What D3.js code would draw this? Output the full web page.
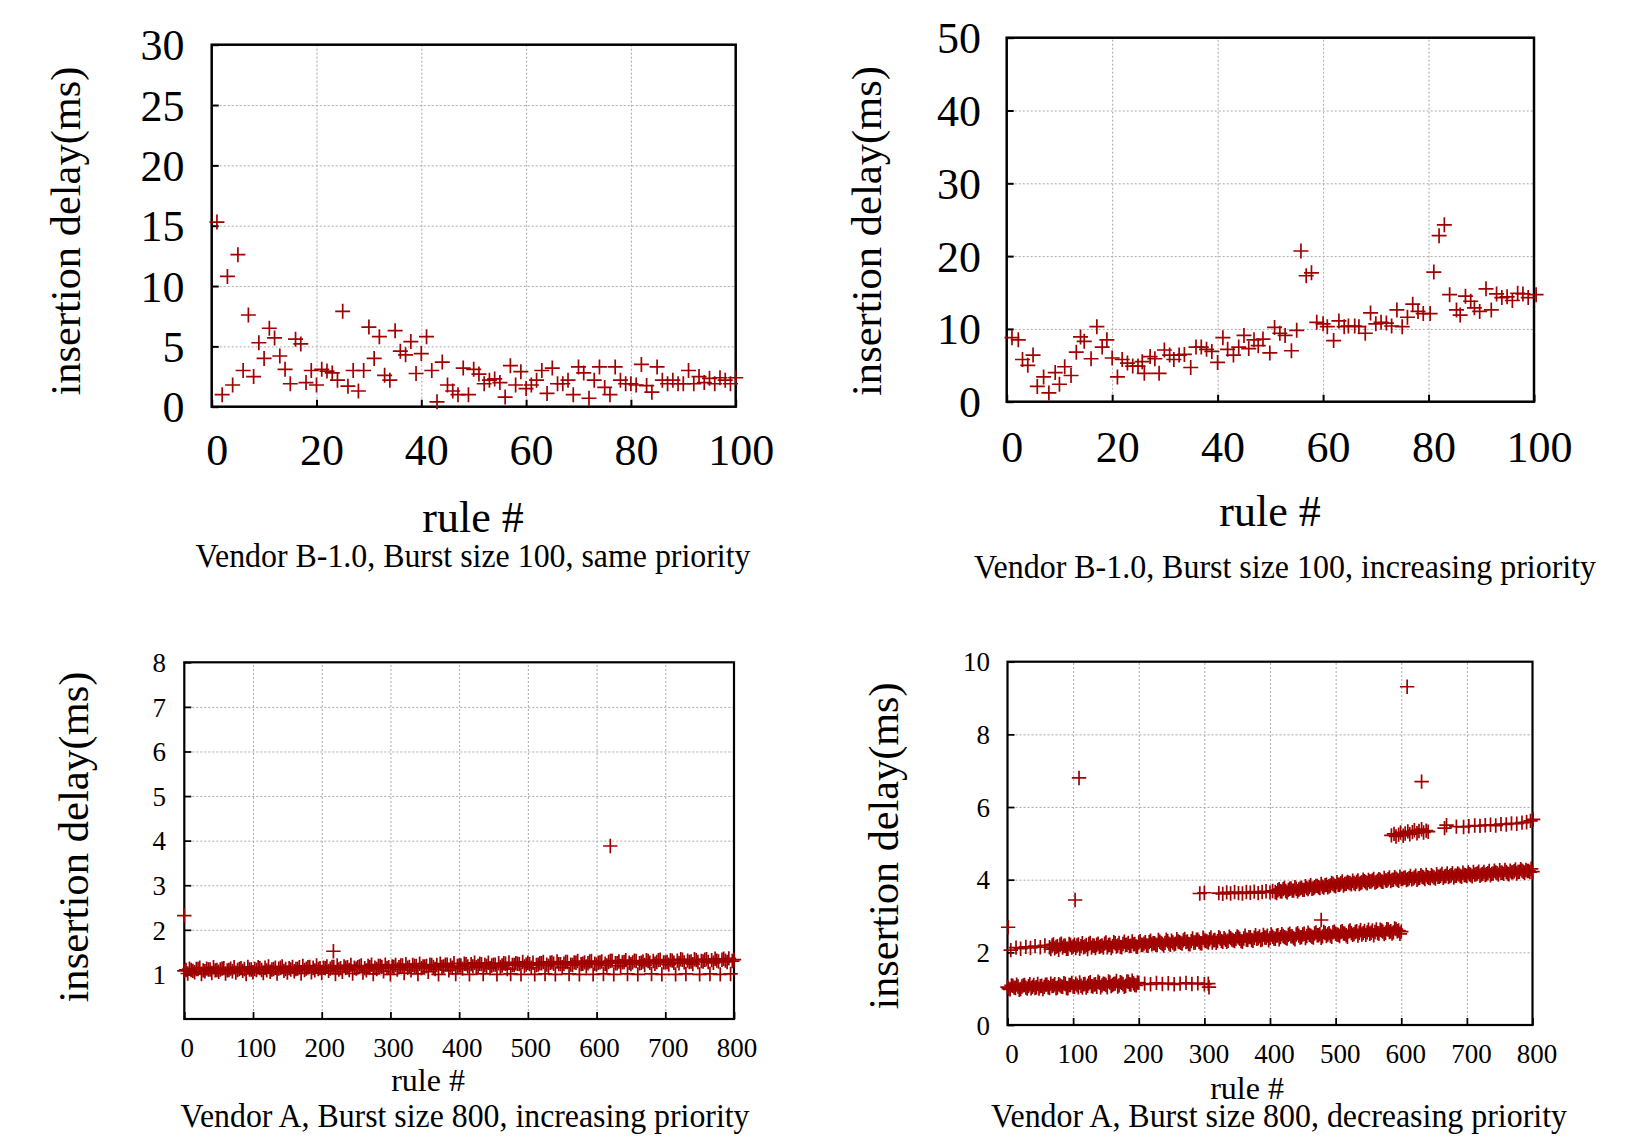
<!DOCTYPE html>
<html lang="en">
<head>
<meta charset="utf-8">
<script src="https://d3js.org/d3.v7.min.js"></script>
<style>
body { margin: 0; background: #ffffff; }
svg { display: block; }
text { font-family: "Liberation Serif", "Times New Roman", serif; fill: #000; }
.grid line { stroke: #a9a9a9; stroke-width: 1; stroke-dasharray: 2,2; }
.grid path { display: none; }
.axis path { display: none; }
.axis line { stroke: #000; }
</style>
</head>
<body>
<script>
// ---- data: [rule #, insertion delay (ms)] ----

// Vendor B-1.0, burst 100, same priority
var sameDelay = [15.3, 1.0, 10.8, 1.8, 12.6, 3.0, 7.6, 2.5, 5.3, 4.0,
  6.5, 5.7, 4.2, 3.1, 1.9, 5.6, 5.2, 2.0, 3.0, 1.8,
  3.1, 2.95, 2.8, 2.2, 7.9, 1.7, 3.0, 1.3, 3.0, 6.6,
  4.0, 5.8, 2.6, 2.2, 6.3, 4.6, 4.3, 5.4, 2.75, 4.4,
  5.8, 3.0, 0.4, 3.7, 1.8, 1.3, 1.0, 3.2, 1.0, 3.1,
  2.7, 1.9, 2.2, 2.3, 2.0, 0.8, 3.4, 1.8, 2.9, 1.5,
  1.8, 2.2, 3.0, 1.1, 3.2, 1.9, 1.9, 2.2, 1.0, 3.3,
  2.8, 0.7, 2.2, 3.3, 1.6, 1.0, 3.3, 2.2, 1.9, 1.9,
  1.8, 3.5, 1.75, 1.2, 3.3, 2.2, 1.9, 2.2, 1.9, 1.9,
  3.0, 1.9, 2.5, 2.0, 2.35, 1.9, 2.4, 2.2, 1.9, 2.4];
var sameRule = d3.range(1, 101);

// Vendor B-1.0, burst 100, increasing priority
var incRule = [1.0, 2.2, 3, 4, 5, 5.8, 7, 8, 9.2, 10,
  11, 12.2, 13.2, 14, 14.7, 16, 17.1, 18.1, 19, 20,
  21, 21.9, 22.9, 23.9, 24.9, 25.7, 26.1, 27.2, 28.1, 28.9,
  29.9, 30.9, 31.7, 32.7, 33.7, 34.9, 35.9, 36.9, 37.9, 38.9,
  40, 41, 41.9, 43, 44, 45, 45.9, 46.9, 47.7, 48.6,
  49.9, 50.8, 51.8, 52.8, 54, 55, 55.8, 56.8, 57.8, 58.8,
  60, 60.8, 62, 63, 64, 64.8, 66, 66.8, 68, 69,
  70, 71, 72, 73, 74, 75, 76, 77, 78, 79,
  80.3, 81, 82, 83, 84, 85.3, 86, 87, 88, 88.7,
  89.7, 90.9, 91.9, 92.9, 93.9, 94.9, 95.9, 96.9, 97.9, 98.9, 100.4];
var incDelay = [8.8, 8.5, 5.8, 5.0, 6.4, 2.1, 3.4, 1.2, 4.0, 2.4,
  4.8, 3.6, 6.8, 8.9, 8.3, 5.9, 10.3, 7.5, 8.5, 6.0,
  3.4, 5.8, 5.3, 4.9, 4.9, 5.5, 3.9, 6.2, 5.9, 3.9,
  7.1, 6.4, 5.8, 6.4, 6.5, 4.7, 7.5, 7.5, 7.2, 6.9,
  5.4, 8.8, 7.2, 6.4, 7.5, 9.1, 7.3, 8.5, 7.7, 8.6,
  6.7, 10.2, 9.4, 9.1, 7.0, 9.8, 20.7, 17.3, 17.7, 10.9,
  10.7, 10.3, 8.4, 11.1, 10.3, 10.4, 10.4, 10.3, 9.4, 12.2,
  10.7, 10.9, 10.8, 10.4, 12.6, 10.3, 11.6, 13.4, 12.4, 12.1,
  12.1, 17.8, 22.8, 24.3, 14.7, 12.6, 11.9, 14.5, 13.8, 12.9,
  12.4, 15.5, 12.6, 14.8, 14.3, 14.4, 13.9, 14.9, 14.8, 14.3, 14.7];

// Vendor A, burst 800, increasing priority: one dense band, read every 5 rules (two interleaved readings)
var aIncLowStart = 0, aIncLowStep = 5;
var aIncLow = [1.08, 1.02, 1.10, 1.05, 1.12, 1.01, 1.07, 1.11, 1.03, 1.09,
  1.06, 1.13, 1.02, 1.10, 1.07, 1.04, 1.12, 1.08, 1.01, 1.11,
  1.05, 1.10, 1.14, 1.03, 1.09, 1.06, 1.12, 1.02, 1.15, 1.08,
  1.04, 1.11, 1.07, 1.13, 1.02, 1.10, 1.16, 1.05, 1.09, 1.12,
  1.03, 1.14, 1.08, 1.17, 1.01, 1.11, 1.06, 1.15, 1.10, 1.02,
  1.13, 1.18, 1.04, 1.09, 1.16, 1.01, 1.12, 1.19, 1.07, 1.14,
  1.00, 1.17, 1.11, 1.20, 1.03, 1.15, 1.09, 1.19, 1.01, 1.14,
  1.18, 1.06, 1.21, 1.12, 1.00, 1.17, 1.22, 1.09, 1.15, 1.01,
  1.20, 1.13, 1.23, 1.00, 1.18, 1.16, 1.24, 1.01, 1.19, 1.14,
  1.22, 1.00, 1.17, 1.25, 1.12, 1.01, 1.21, 1.24, 1.00, 1.18,
  1.26, 1.15, 1.00, 1.22, 1.25, 1.01, 1.19, 1.27, 1.00, 1.23,
  1.16, 1.28, 1.01, 1.21, 1.26, 1.00, 1.24, 1.18, 1.29, 1.00,
  1.22, 1.27, 1.01, 1.20, 1.30, 1.00, 1.25, 1.19, 1.28, 1.01,
  1.23, 1.31, 1.00, 1.26, 1.21, 1.30, 1.01, 1.24, 1.32, 1.00,
  1.27, 1.22, 1.31, 1.00, 1.25, 1.33, 1.01, 1.28, 1.23, 1.32,
  1.00, 1.29, 1.34, 1.01, 1.26, 1.31, 1.00, 1.35, 1.28, 1.01,
  1.33];
var aIncHighStart = 2.5, aIncHighStep = 5;
var aIncHigh = [1.10, 1.13, 1.08, 1.12, 1.15, 1.09, 1.13, 1.11, 1.16, 1.10,
  1.11, 1.14, 1.09, 1.13, 1.16, 1.10, 1.14, 1.12, 1.17, 1.11,
  1.12, 1.16, 1.10, 1.15, 1.18, 1.11, 1.15, 1.13, 1.18, 1.12,
  1.14, 1.17, 1.12, 1.16, 1.19, 1.13, 1.17, 1.15, 1.20, 1.14,
  1.15, 1.18, 1.13, 1.17, 1.20, 1.14, 1.18, 1.16, 1.21, 1.15,
  1.16, 1.20, 1.14, 1.19, 1.22, 1.15, 1.19, 1.17, 1.22, 1.16,
  1.18, 1.21, 1.16, 1.20, 1.23, 1.17, 1.21, 1.19, 1.24, 1.18,
  1.19, 1.22, 1.17, 1.21, 1.24, 1.18, 1.22, 1.20, 1.25, 1.19,
  1.20, 1.24, 1.18, 1.23, 1.26, 1.19, 1.23, 1.21, 1.26, 1.20,
  1.22, 1.25, 1.20, 1.24, 1.27, 1.21, 1.25, 1.23, 1.28, 1.22,
  1.23, 1.26, 1.21, 1.25, 1.28, 1.22, 1.26, 1.24, 1.29, 1.23,
  1.24, 1.28, 1.22, 1.27, 1.30, 1.23, 1.27, 1.25, 1.30, 1.24,
  1.26, 1.29, 1.24, 1.28, 1.31, 1.25, 1.29, 1.27, 1.32, 1.26,
  1.27, 1.30, 1.25, 1.29, 1.32, 1.26, 1.30, 1.28, 1.33, 1.27,
  1.28, 1.32, 1.26, 1.31, 1.34, 1.27, 1.31, 1.29, 1.34, 1.28,
  1.30, 1.33, 1.28, 1.32, 1.35, 1.29, 1.33, 1.31, 1.36, 1.30];
var aIncOutliers = [[0, 2.32], [217, 1.52], [620, 3.88]];

// Vendor A, burst 800, decreasing priority: four bands plus outliers
var aDecLowStart = 0, aDecLowStep = 4;
var aDecLow = [1.04, 0.98, 1.08, 1.02, 1.06, 0.99, 1.09, 1.03, 1.07, 1.01,
  1.10, 1.04, 1.00, 1.08, 1.05, 1.11, 1.02, 1.07, 1.12, 1.03,
  1.09, 1.05, 1.13, 1.01, 1.10, 1.06, 1.14, 1.04, 1.08, 1.12,
  1.03, 1.15, 1.07, 1.11, 1.05, 1.16, 1.09, 1.13, 1.04, 1.17,
  1.10, 1.14, 1.06, 1.18, 1.12, 1.08, 1.19, 1.11, 1.15, 1.09,
  1.16];
var aDecLow2Start = 2, aDecLow2Step = 4;
var aDecLow2 = [1.00, 1.09, 1.03, 1.11, 0.97, 1.06, 1.10, 1.00, 1.12, 1.05,
  1.02, 1.13, 1.07, 0.99, 1.11, 1.04, 1.14, 1.08, 1.01, 1.12,
  1.06, 1.15, 1.02, 1.10, 1.16, 1.05, 1.09, 1.17, 1.03, 1.13,
  1.08, 1.18, 1.06, 1.12, 1.19, 1.04, 1.14, 1.10, 1.20, 1.07,
  1.13, 1.21, 1.09, 1.16, 1.05, 1.20, 1.12, 1.22, 1.10, 1.17];
var aDecLowTail = [[209, 1.14], [218, 1.12], [227, 1.16], [236, 1.13], [245, 1.15], [254, 1.12],
  [263, 1.14], [272, 1.16], [281, 1.13], [290, 1.15], [300, 1.12], [306, 1.14], [307, 1.04]];

var aDecMidHead = [[5, 2.06], [13, 2.13], [20, 2.10], [28, 2.15], [35, 2.12], [42, 2.17], [50, 2.14], [57, 2.19]];
var aDecMidStart = 64, aDecMidStep = 4;
var aDecMid = [2.14, 2.19, 2.11, 2.17, 2.21, 2.13, 2.18, 2.10, 2.20, 2.16,
  2.12, 2.22, 2.17, 2.14, 2.20, 2.23, 2.13, 2.18, 2.21, 2.15,
  2.19, 2.24, 2.14, 2.21, 2.17, 2.25, 2.19, 2.15, 2.23, 2.20,
  2.26, 2.18, 2.22, 2.16, 2.27, 2.21, 2.24, 2.19, 2.28, 2.22,
  2.25, 2.20, 2.29, 2.23, 2.26, 2.31, 2.21, 2.27, 2.24, 2.30,
  2.26, 2.33, 2.28, 2.23, 2.31, 2.27, 2.35, 2.29, 2.25, 2.33,
  2.30, 2.36, 2.27, 2.34, 2.31, 2.38, 2.29, 2.35, 2.32, 2.39,
  2.33, 2.37, 2.41, 2.31, 2.38, 2.35, 2.42, 2.34, 2.40, 2.37,
  2.44, 2.36, 2.41, 2.46, 2.39, 2.43, 2.37, 2.47, 2.42, 2.45,
  2.40, 2.48, 2.44, 2.39, 2.49, 2.46, 2.42, 2.51, 2.45, 2.48,
  2.43, 2.52, 2.47, 2.50, 2.44, 2.53, 2.49, 2.46, 2.55, 2.51,
  2.48, 2.56, 2.52, 2.47, 2.57, 2.53, 2.50, 2.58, 2.54, 2.49,
  2.59, 2.55, 2.51, 2.60, 2.56, 2.53, 2.62, 2.57, 2.54, 2.63,
  2.58, 2.55, 2.64, 2.60, 2.57];
var aDecMid2Start = 66, aDecMid2Step = 4;
var aDecMid2 = [2.09, 2.22, 2.15, 2.07, 2.24, 2.18, 2.10, 2.23, 2.13, 2.21,
  2.19, 2.10, 2.25, 2.16, 2.09, 2.26, 2.19, 2.12, 2.24, 2.17,
  2.13, 2.27, 2.20, 2.12, 2.28, 2.16, 2.26, 2.14, 2.29, 2.21,
  2.17, 2.30, 2.23, 2.15, 2.31, 2.20, 2.28, 2.18, 2.32, 2.25,
  2.21, 2.34, 2.26, 2.19, 2.35, 2.24, 2.32, 2.22, 2.36, 2.28,
  2.24, 2.37, 2.30, 2.22, 2.38, 2.27, 2.35, 2.25, 2.40, 2.32,
  2.27, 2.41, 2.33, 2.26, 2.42, 2.31, 2.39, 2.29, 2.43, 2.35,
  2.31, 2.44, 2.37, 2.29, 2.46, 2.34, 2.42, 2.32, 2.47, 2.39,
  2.34, 2.48, 2.40, 2.33, 2.49, 2.38, 2.46, 2.36, 2.50, 2.42,
  2.38, 2.51, 2.44, 2.36, 2.53, 2.41, 2.49, 2.39, 2.54, 2.46,
  2.41, 2.55, 2.47, 2.40, 2.56, 2.45, 2.53, 2.43, 2.57, 2.49,
  2.45, 2.58, 2.51, 2.43, 2.60, 2.48, 2.56, 2.46, 2.61, 2.53,
  2.48, 2.62, 2.54, 2.47, 2.63, 2.52, 2.60, 2.50, 2.64, 2.56,
  2.52, 2.66, 2.58, 2.51];

var aDecHighHead = [[293, 3.62], [300, 3.64], [322, 3.63], [328, 3.61], [334, 3.65], [340, 3.62],
  [346, 3.66], [352, 3.63], [358, 3.62], [364, 3.66], [370, 3.64], [376, 3.67], [382, 3.63],
  [388, 3.66], [394, 3.68], [400, 3.65], [404, 3.69]];
var aDecHighStart = 408, aDecHighStep = 4;
var aDecHigh = [3.66, 3.71, 3.68, 3.74, 3.69, 3.72, 3.76, 3.70, 3.75, 3.73,
  3.78, 3.72, 3.77, 3.80, 3.75, 3.79, 3.83, 3.77, 3.81, 3.85,
  3.79, 3.84, 3.88, 3.82, 3.86, 3.90, 3.84, 3.89, 3.92, 3.87,
  3.91, 3.94, 3.88, 3.93, 3.96, 3.90, 3.95, 3.98, 3.92, 3.97,
  3.99, 3.94, 3.98, 4.01, 3.96, 4.00, 4.03, 3.97, 4.02, 4.05,
  3.99, 4.04, 4.01, 4.06, 4.00, 4.05, 4.08, 4.02, 4.07, 4.04,
  4.09, 4.03, 4.08, 4.11, 4.05, 4.10, 4.07, 4.12, 4.06, 4.11,
  4.14, 4.08, 4.13, 4.10, 4.15, 4.09, 4.14, 4.17, 4.11, 4.16,
  4.13, 4.18, 4.12, 4.17, 4.20, 4.14, 4.19, 4.16, 4.21, 4.15,
  4.20, 4.23, 4.17, 4.22, 4.25, 4.19, 4.24, 4.21, 4.22];
var aDecHigh2Start = 410, aDecHigh2Step = 4;
var aDecHigh2 = [3.63, 3.74, 3.67, 3.77, 3.65, 3.75, 3.70, 3.79, 3.68, 3.76,
  3.72, 3.82, 3.74, 3.85, 3.76, 3.83, 3.79, 3.88, 3.78, 3.86,
  3.82, 3.91, 3.84, 3.93, 3.86, 3.95, 3.88, 3.94, 3.90, 3.97,
  3.88, 3.98, 3.91, 4.00, 3.93, 3.99, 3.95, 4.02, 3.94, 4.01,
  3.95, 4.05, 3.97, 4.06, 3.99, 4.07, 4.00, 4.08, 4.02, 4.06,
  4.01, 4.10, 4.03, 4.11, 4.04, 4.12, 4.06, 4.13, 4.05, 4.12,
  4.06, 4.15, 4.08, 4.16, 4.09, 4.17, 4.10, 4.18, 4.11, 4.17,
  4.10, 4.19, 4.12, 4.20, 4.13, 4.21, 4.15, 4.22, 4.14, 4.21,
  4.15, 4.24, 4.16, 4.25, 4.18, 4.26, 4.19, 4.27, 4.17, 4.25,
  4.20, 4.28, 4.21, 4.29, 4.22, 4.27, 4.24, 4.30];

var aDecTop = [[585, 5.22], [589, 5.26], [592, 5.19], [596, 5.24], [599, 5.30], [603, 5.21],
  [606, 5.27], [610, 5.33], [613, 5.25], [617, 5.31], [620, 5.36], [624, 5.28], [627, 5.34],
  [631, 5.39], [634, 5.30], [638, 5.35], [641, 5.32],
  [666, 5.42], [669, 5.50], [684, 5.46], [695, 5.45], [703, 5.47], [712, 5.49], [720, 5.48],
  [728, 5.50], [736, 5.51], [744, 5.49], [752, 5.53], [760, 5.52], [768, 5.55], [776, 5.54],
  [784, 5.57], [791, 5.58], [797, 5.62], [801, 5.66]];
var aDecOutliers = [[1, 2.69], [103, 3.44], [109, 6.8], [478, 2.89], [609, 9.31], [631, 6.70]];

// ---- helpers ----
function pairs(rules, delays) { return rules.map(function(r, i) { return [r, delays[i]]; }); }
function band(start, step, values) { return values.map(function(v, i) { return [start + i * step, v]; }); }

var panels = [
  { points: pairs(sameRule, sameDelay),
    x0: 211.7, x1: 735.7, y0: 406.7, y1: 44.7,
    xDomain: [0, 100], xTicks: d3.range(0, 101, 20), yDomain: [0, 30], yTicks: d3.range(0, 31, 5),
    tickFont: 44, yLabRight: 184.5, xLabBase: 465.5, xLabDx: 5,
    ruleX: 473, ruleY: 532, ruleFont: 44,
    caption: "Vendor B-1.0, Burst size 100, same priority", capX: 473, capY: 567, capLen: 555, capFont: 33,
    ylabX: 80, ylabY: 231, ylabLen: 329, ylabFont: 43, markR: 7.5, markW: 1.7, border: 2.5 },
  { points: pairs(incRule, incDelay),
    x0: 1006.7, x1: 1534, y0: 401.7, y1: 37.7,
    xDomain: [0, 100], xTicks: d3.range(0, 101, 20), yDomain: [0, 50], yTicks: d3.range(0, 51, 10),
    tickFont: 44, yLabRight: 981, xLabBase: 462, xLabDx: 5,
    ruleX: 1270, ruleY: 526, ruleFont: 44,
    caption: "Vendor B-1.0, Burst size 100, increasing priority", capX: 1285, capY: 578, capLen: 622, capFont: 33,
    ylabX: 881, ylabY: 231, ylabLen: 330, ylabFont: 43, markR: 7.5, markW: 1.7, border: 2.5 },
  { points: band(aIncLowStart, aIncLowStep, aIncLow)
      .concat(band(aIncHighStart, aIncHighStep, aIncHigh), aIncOutliers),
    x0: 184.3, x1: 734, y0: 1019, y1: 662.3,
    xDomain: [0, 800], xTicks: d3.range(0, 801, 100), yDomain: [0, 8], yTicks: d3.range(1, 9),
    tickFont: 27, yLabRight: 166, xLabBase: 1057, xLabDx: 2.5,
    ruleX: 428, ruleY: 1091, ruleFont: 32,
    caption: "Vendor A, Burst size 800, increasing priority", capX: 465, capY: 1127, capLen: 569, capFont: 33,
    ylabX: 88, ylabY: 837, ylabLen: 331, ylabFont: 43, markR: 7.2, markW: 1.7, border: 2.2 },
  { points: band(aDecLowStart, aDecLowStep, aDecLow).concat(
      band(aDecLow2Start, aDecLow2Step, aDecLow2), aDecLowTail, aDecMidHead,
      band(aDecMidStart, aDecMidStep, aDecMid), band(aDecMid2Start, aDecMid2Step, aDecMid2),
      aDecHighHead, band(aDecHighStart, aDecHighStep, aDecHigh),
      band(aDecHigh2Start, aDecHigh2Step, aDecHigh2), aDecTop, aDecOutliers),
    x0: 1007.5, x1: 1532.5, y0: 1025, y1: 661.7,
    xDomain: [0, 800], xTicks: d3.range(0, 801, 100), yDomain: [0, 10], yTicks: d3.range(0, 11, 2),
    tickFont: 27, yLabRight: 990, xLabBase: 1063, xLabDx: 4,
    ruleX: 1247, ruleY: 1099, ruleFont: 32,
    caption: "Vendor A, Burst size 800, decreasing priority", capX: 1279, capY: 1127, capLen: 576, capFont: 33,
    ylabX: 898, ylabY: 846, ylabLen: 327, ylabFont: 43, markR: 7.2, markW: 1.7, border: 2.2 }
];

var svg = d3.select("body").append("svg")
  .attr("width", 1644)
  .attr("height", 1139);

svg.append("rect").attr("width", 1644).attr("height", 1139).attr("fill", "#fff");

panels.forEach(drawPanel);

function drawPanel(p) {
  var x = d3.scaleLinear().domain(p.xDomain).range([p.x0, p.x1]);
  var y = d3.scaleLinear().domain(p.yDomain).range([p.y0, p.y1]);
  var w = p.x1 - p.x0, h = p.y0 - p.y1;
  var g = svg.append("g");

  // dotted grid, not on the border itself
  var xIn = p.xTicks.filter(function(t) { return t > p.xDomain[0] && t < p.xDomain[1]; });
  var yIn = p.yTicks.filter(function(t) { return t > p.yDomain[0] && t < p.yDomain[1]; });
  g.append("g").attr("class", "grid")
    .attr("transform", "translate(0," + p.y0 + ")")
    .call(d3.axisBottom(x).tickValues(xIn).tickSize(-h).tickFormat(""));
  g.append("g").attr("class", "grid")
    .attr("transform", "translate(" + p.x0 + ",0)")
    .call(d3.axisLeft(y).tickValues(yIn).tickSize(-w).tickFormat(""));

  // inward ticks with labels
  var xa = g.append("g").attr("class", "axis")
    .attr("transform", "translate(0," + p.y0 + ")")
    .call(d3.axisBottom(x).tickValues(p.xTicks).tickSizeInner(-7).tickSizeOuter(0));
  xa.selectAll("line").attr("stroke-width", p.border * 0.8);
  xa.selectAll("text")
    .attr("y", p.xLabBase - p.y0).attr("dy", null).attr("dx", p.xLabDx)
    .style("font-size", p.tickFont + "px");

  var ya = g.append("g").attr("class", "axis")
    .attr("transform", "translate(" + p.x0 + ",0)")
    .call(d3.axisLeft(y).tickValues(p.yTicks).tickSizeInner(-7).tickSizeOuter(0));
  ya.selectAll("line").attr("stroke-width", p.border * 0.8);
  ya.selectAll("text")
    .attr("x", p.yLabRight - p.x0).attr("dy", "0.34em")
    .style("font-size", p.tickFont + "px");

  // border
  g.append("rect")
    .attr("x", p.x0).attr("y", p.y1).attr("width", w).attr("height", h)
    .attr("fill", "none").attr("stroke", "#000").attr("stroke-width", p.border);

  // plus marks
  var r = p.markR;
  g.append("g").selectAll("path")
    .data(p.points)
    .enter().append("path")
    .attr("transform", function(d) { return "translate(" + x(d[0]) + "," + y(d[1]) + ")"; })
    .attr("d", "M" + (-r) + ",0H" + r + "M0," + (-r) + "V" + r)
    .attr("stroke", "#a00000")
    .attr("stroke-width", p.markW)
    .attr("fill", "none");

  // labels
  g.append("text")
    .attr("x", p.ylabX).attr("y", p.ylabY)
    .attr("transform", "rotate(-90," + p.ylabX + "," + p.ylabY + ")")
    .attr("text-anchor", "middle")
    .attr("textLength", p.ylabLen).attr("lengthAdjust", "spacingAndGlyphs")
    .style("font-size", p.ylabFont + "px")
    .text("insertion delay(ms)");

  g.append("text")
    .attr("x", p.ruleX).attr("y", p.ruleY)
    .attr("text-anchor", "middle")
    .style("font-size", p.ruleFont + "px")
    .text("rule #");

  g.append("text")
    .attr("x", p.capX).attr("y", p.capY)
    .attr("text-anchor", "middle")
    .attr("textLength", p.capLen).attr("lengthAdjust", "spacingAndGlyphs")
    .style("font-size", p.capFont + "px")
    .text(p.caption);
}
</script>
</body>
</html>
